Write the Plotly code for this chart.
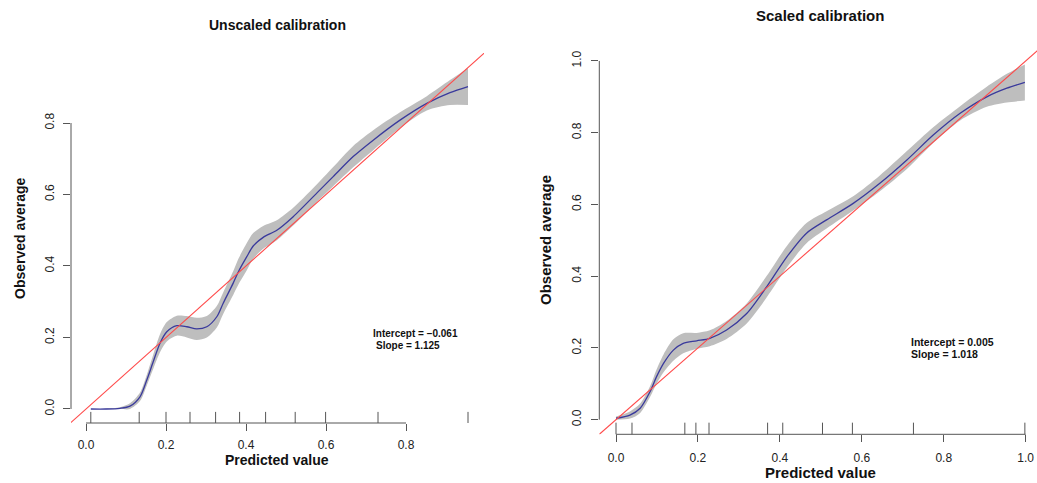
import plotly.graph_objects as go

W, H = 1037, 483

# ---------------- data: unscaled calibration ----------------
x_unscaled = [0.012, 0.05, 0.085, 0.11, 0.135, 0.152, 0.168, 0.185, 0.202, 0.227, 0.252, 0.277,
              0.302, 0.327, 0.343, 0.368, 0.381, 0.402, 0.418, 0.443, 0.477, 0.518, 0.585, 0.618,
              0.668, 0.718, 0.785, 0.852, 0.91, 0.955]
y_unscaled = [0.0, 0.0, 0.002, 0.008, 0.034, 0.081, 0.132, 0.184, 0.216, 0.233, 0.230, 0.224,
              0.230, 0.258, 0.296, 0.352, 0.384, 0.426, 0.456, 0.480, 0.500, 0.538, 0.613, 0.650,
              0.706, 0.752, 0.808, 0.855, 0.885, 0.902]
lo_unscaled = [0.0, 0.0, 0.0, 0.0, 0.022, 0.066, 0.112, 0.159, 0.189, 0.205, 0.200, 0.193,
               0.200, 0.228, 0.266, 0.319, 0.348, 0.388, 0.420, 0.448, 0.472, 0.513, 0.588, 0.623,
               0.676, 0.724, 0.786, 0.835, 0.850, 0.850]
hi_unscaled = [0.0, 0.001, 0.005, 0.016, 0.046, 0.096, 0.152, 0.209, 0.243, 0.261, 0.260, 0.255,
               0.260, 0.288, 0.326, 0.385, 0.420, 0.464, 0.492, 0.512, 0.528, 0.563, 0.638, 0.677,
               0.736, 0.780, 0.830, 0.875, 0.920, 0.954]
rug_unscaled = [0.012, 0.133, 0.2, 0.26, 0.324, 0.384, 0.449, 0.523, 0.599, 0.73, 0.955]
ticks_unscaled = [0.0, 0.2, 0.4, 0.6, 0.8]
ticklabels_unscaled = ["0.0", "0.2", "0.4", "0.6", "0.8"]

# ---------------- data: scaled calibration ----------------
x_scaled = [0.0, 0.034, 0.059, 0.083, 0.099, 0.116, 0.14, 0.164, 0.197, 0.229, 0.27, 0.319,
            0.368, 0.417, 0.465, 0.514, 0.579, 0.644, 0.71, 0.775, 0.84, 0.905, 0.954, 0.998]
y_scaled = [0.004, 0.013, 0.032, 0.078, 0.12, 0.157, 0.194, 0.213, 0.22, 0.227, 0.25, 0.296,
            0.371, 0.454, 0.52, 0.557, 0.603, 0.659, 0.724, 0.794, 0.854, 0.9, 0.924, 0.94]
lo_scaled = [0.0, 0.003, 0.019, 0.063, 0.100, 0.132, 0.164, 0.185, 0.198, 0.205, 0.225, 0.268,
             0.341, 0.424, 0.492, 0.533, 0.583, 0.637, 0.699, 0.772, 0.834, 0.872, 0.884, 0.890]
hi_scaled = [0.009, 0.023, 0.045, 0.093, 0.140, 0.182, 0.224, 0.241, 0.242, 0.249, 0.275, 0.324,
             0.401, 0.484, 0.548, 0.581, 0.623, 0.681, 0.749, 0.816, 0.874, 0.928, 0.964, 0.990]
rug_scaled = [0.0, 0.039, 0.168, 0.195, 0.227, 0.37, 0.407, 0.504, 0.577, 0.726, 0.998]
ticks_scaled = [0.0, 0.2, 0.4, 0.6, 0.8, 1.0]
ticklabels_scaled = ["0.0", "0.2", "0.4", "0.6", "0.8", "1.0"]

ident = [-0.2, 1.2]

BAND = "#bebebe"
BLUE = "#3a3a9c"
RED = "#ff4a4a"
AX = "#555555"
FONT = "Liberation Sans, Arial, sans-serif"

fig = go.Figure()

panels = [
    ("x", "y", x_unscaled, y_unscaled, lo_unscaled, hi_unscaled),
    ("x2", "y2", x_scaled, y_scaled, lo_scaled, hi_scaled),
]
for xa, ya, xs, ys, lo, hi in panels:
    fig.add_trace(go.Scatter(x=xs, y=lo, mode="lines",
                             line=dict(width=0, color=BAND, shape="spline", smoothing=0.8),
                             xaxis=xa, yaxis=ya, showlegend=False, hoverinfo="skip"))
    fig.add_trace(go.Scatter(x=xs, y=hi, mode="lines", fill="tonexty", fillcolor=BAND,
                             line=dict(width=0, color=BAND, shape="spline", smoothing=0.8),
                             xaxis=xa, yaxis=ya, showlegend=False, hoverinfo="skip"))
    fig.add_trace(go.Scatter(x=xs, y=ys, mode="lines",
                             line=dict(color=BLUE, width=1.3, shape="spline", smoothing=0.8),
                             xaxis=xa, yaxis=ya, showlegend=False))
    fig.add_trace(go.Scatter(x=ident, y=ident, mode="lines", line=dict(color=RED, width=1.1),
                             xaxis=xa, yaxis=ya, showlegend=False))

def px_x(p):
    return p / W

def px_y(p):
    return 1 - p / H

axis_common = dict(showgrid=False, zeroline=False, showline=False, ticks="outside", ticklen=7,
                   tickcolor=AX, tickwidth=1, tickfont=dict(family=FONT, size=12, color="#222"))

fig.update_layout(
    width=W, height=H, margin=dict(l=0, r=0, t=0, b=0),
    paper_bgcolor="white", plot_bgcolor="white",
    xaxis=dict(domain=[px_x(71), px_x(484)], range=[-0.0375, 0.995], anchor="y",
               tickvals=ticks_unscaled, ticktext=ticklabels_unscaled, ticklabelstandoff=4,
               **axis_common),
    yaxis=dict(domain=[px_y(423), px_y(53)], range=[-0.0392, 0.9958], anchor="x",
               tickvals=ticks_unscaled, ticktext=ticklabels_unscaled, tickangle=-90,
               ticklabelstandoff=4, **axis_common),
    xaxis2=dict(domain=[px_x(599.3), 1.0], range=[-0.0408, 1.0276], anchor="y2",
                tickvals=ticks_scaled, ticktext=ticklabels_scaled, ticklabelstandoff=5,
                **axis_common),
    yaxis2=dict(domain=[px_y(434.3), px_y(46.6)], range=[-0.0407, 1.04], anchor="x2",
                tickvals=ticks_scaled, ticktext=ticklabels_scaled, tickangle=-90,
                ticklabelstandoff=6, **axis_common),
)

shapes = []
# R-style axis lines spanning first to last tick
for xa, ya, tv in [("x", "y", ticks_unscaled), ("x2", "y2", ticks_scaled)]:
    shapes.append(dict(type="line", xref=xa, yref=ya + " domain", x0=tv[0], x1=tv[-1], y0=0, y1=0,
                       line=dict(color=AX, width=1)))
    shapes.append(dict(type="line", xref=xa + " domain", yref=ya, x0=0, x1=0, y0=tv[0], y1=tv[-1],
                       line=dict(color=AX, width=1)))
# rug ticks
for xa, ya, rug in [("x", "y", rug_unscaled), ("x2", "y2", rug_scaled)]:
    for r in rug:
        shapes.append(dict(type="line", xref=xa, yref=ya + " domain", x0=r, x1=r, y0=0, y1=0.03,
                           line=dict(color=AX, width=1)))
fig.update_layout(shapes=shapes)

ann = []
def text(x, y, s, size, xanchor="center", angle=0):
    ann.append(dict(x=px_x(x), y=px_y(y), xref="paper", yref="paper", text=s, showarrow=False,
                    xanchor=xanchor, yanchor="middle", textangle=angle,
                    font=dict(family=FONT, size=size, color="#111")))

text(277, 25, "<b>Unscaled calibration</b>", 14)
text(820, 16, "<b>Scaled calibration</b>", 15)
text(277, 460, "<b>Predicted value</b>", 14)
text(820, 472, "<b>Predicted value</b>", 15)
text(20, 238, "<b>Observed average</b>", 14, angle=-90)
text(545, 240, "<b>Observed average</b>", 15, angle=-90)
text(371, 333, "<b>Intercept = \u22120.061</b>", 10, xanchor="left")
text(374, 345, "<b>Slope = 1.125</b>", 10, xanchor="left")
text(909, 342, "<b>Intercept = 0.005</b>", 10.5, xanchor="left")
text(909, 354, "<b>Slope = 1.018</b>", 10.5, xanchor="left")
fig.update_layout(annotations=ann)

fig.write_html("out.html", config={"displayModeBar": False},
               post_script="document.body.style.margin='0px';")
